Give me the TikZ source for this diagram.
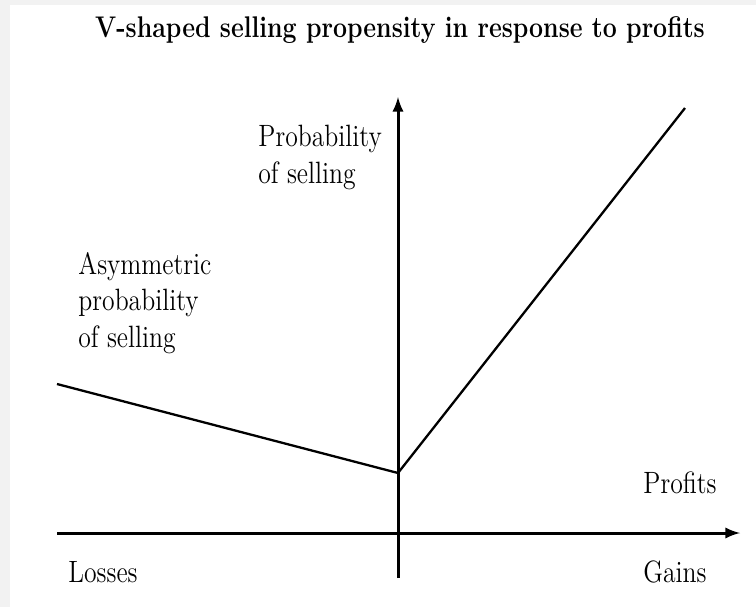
\documentclass[tikz,border=0pt]{standalone}
\usepackage{tikz}
\usetikzlibrary{arrows,positioning}

\begin{document}
\begin{tikzpicture}[x=0.5pt,y=-0.5pt,>=latex,
  axis/.style={->,line width=1.5pt},
  vline/.style={line width=1.15pt},
  lbl/.style={inner sep=0pt,yscale=1.2,font=\fontsize{12.85}{15.2}\selectfont},
  head/.style={inner sep=0pt,yscale=1.2,font=\bfseries\fontsize{12.45}{14}\selectfont}]
\useasboundingbox (0,0) rectangle (756,607);
\fill[gray!10] (0,0) rectangle (756,607);
\fill[white] (10,5) rectangle (756,607);
% axes
\coordinate (xstart) at (57,533);
\coordinate (xend) at (740,533);
\coordinate (ystart) at (398,578);
\coordinate (yend) at (398,97);
\draw[axis] (xstart) -- (xend);
\draw[axis] (ystart) -- (yend);
% selling propensity
\coordinate (lossend) at (57,384);
\coordinate (kink) at (398,473);
\coordinate (gainend) at (685,108);
\draw[vline] (lossend) -- (kink) -- (gainend);
% labels
\node[head,anchor=base] (title) at (400,37) {V-shaped selling propensity in response to profits};
\node[lbl,anchor=north west,align=left] (prob) at (258,125) {Probability\\of selling};
\node[lbl,anchor=north west,align=left] (asym) at (78,252) {Asymmetric\\probability\\of selling};
\node[lbl,anchor=base west] (profits) at (643,493) {Profits};
\node[lbl,anchor=base west] (losses) at (68,582) {Losses};
\node[lbl,anchor=base west] (gains) at (643,582) {Gains};
\end{tikzpicture}
\end{document}
